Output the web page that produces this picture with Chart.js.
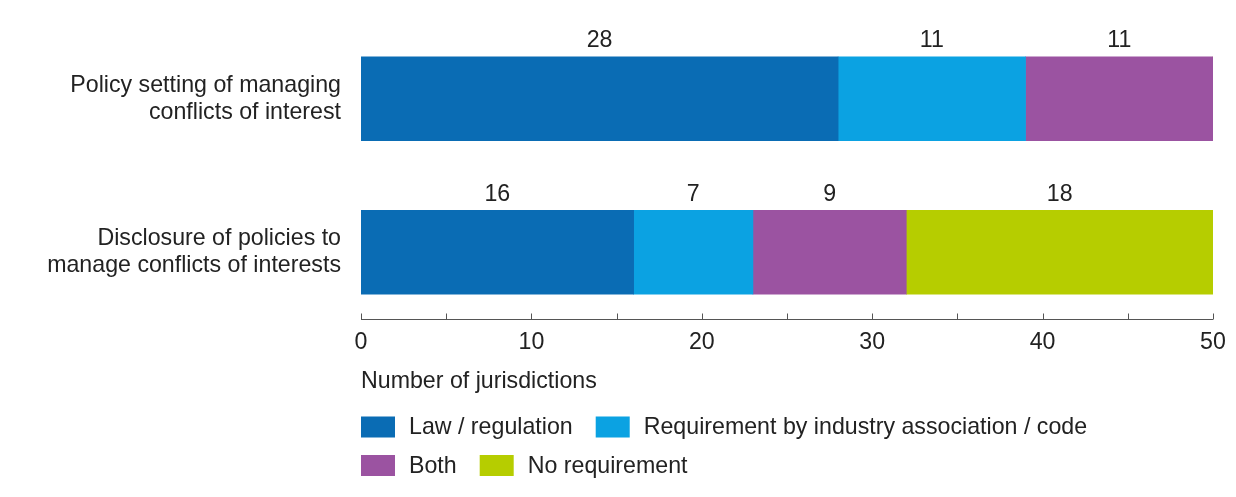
<!DOCTYPE html>
<html>
<head>
<meta charset="utf-8">
<script src="https://cdn.jsdelivr.net/npm/chart.js@4.4.1/dist/chart.umd.min.js"></script>
<style>
    body { margin: 0; background: #fff; }
    #wrap { width: 1236px; height: 497px; }
</style>
</head>
<body>
<div id="wrap"><canvas id="barChart"></canvas></div>
<script>
// categories (two-line labels) and series values
const categories = [
    ['Policy setting of managing', 'conflicts of interest'],
    ['Disclosure of policies to', 'manage conflicts of interests']
];
const seriesNames = ['Law / regulation', 'Requirement by industry association / code', 'Both', 'No requirement'];
const lawRegulation = [28, 16];
const industryCode = [11, 7];
const both = [11, 9];
const noRequirement = [0, 18];
const xTicks = [0, 10, 20, 30, 40, 50];

const colors = ['#0a6cb4', '#0ba2e2', '#9b53a1', '#b6cd00'];
const textColor = '#222';
const fontFamily = '"Liberation Sans", Arial, sans-serif';
const fontSize = 23.2;

document.addEventListener("DOMContentLoaded", function() {
    const ctx = document.getElementById('barChart').getContext('2d');

    // value labels above each segment
    const valueLabels = {
        id: 'valueLabels',
        afterDatasetsDraw(chart) {
            const c = chart.ctx;
            c.save();
            c.font = fontSize + 'px ' + fontFamily;
            c.fillStyle = textColor;
            c.textAlign = 'center';
            c.textBaseline = 'middle';
            chart.data.datasets.forEach((ds, i) => {
                chart.getDatasetMeta(i).data.forEach((bar, j) => {
                    const v = ds.data[j];
                    if (!v) return;
                    const top = bar.y - bar.height / 2;
                    c.fillText(String(v), (bar.x + bar.base) / 2, top - 16);
                });
            });
            c.restore();
        }
    };

    // x axis line with ticks every 5, drawn a bit above the chart area bottom
    const axisLine = {
        id: 'axisLine',
        afterDraw(chart) {
            const c = chart.ctx;
            const x = chart.scales.x;
            const y = 319.5;
            c.save();
            c.strokeStyle = '#555';
            c.lineWidth = 1;
            c.beginPath();
            c.moveTo(x.getPixelForValue(0), y);
            c.lineTo(x.getPixelForValue(50), y);
            for (let v = 0; v <= 50; v += 5) {
                const px = Math.round(x.getPixelForValue(v)) + 0.5;
                c.moveTo(px, y);
                c.lineTo(px, y - 6);
            }
            c.stroke();
            c.restore();
        }
    };

    // legend: left aligned under the axis title, two rows
    const legendRows = {
        id: 'legendRows',
        afterDraw(chart) {
            const c = chart.ctx;
            const left = chart.chartArea.left;
            const rows = [[0, 1], [2, 3]];
            const rowY = [427, 465.5];
            c.save();
            c.font = fontSize + 'px ' + fontFamily;
            c.textBaseline = 'middle';
            c.textAlign = 'left';
            rows.forEach((row, r) => {
                let x = left;
                row.forEach(i => {
                    const ds = chart.data.datasets[i];
                    c.fillStyle = ds.backgroundColor;
                    c.fillRect(x, rowY[r] - 10.5, 34, 21);
                    x += 34 + 14;
                    c.fillStyle = textColor;
                    c.fillText(ds.label, x, rowY[r] + 1);
                    x += c.measureText(ds.label).width + 23;
                });
            });
            c.restore();
        }
    };

    const barChart = new Chart(ctx, {
        type: 'bar',
        data: {
            labels: categories,
            datasets: [
                { label: seriesNames[0], data: lawRegulation, backgroundColor: colors[0] },
                { label: seriesNames[1], data: industryCode, backgroundColor: colors[1] },
                { label: seriesNames[2], data: both, backgroundColor: colors[2] },
                { label: seriesNames[3], data: noRequirement, backgroundColor: colors[3] }
            ]
        },
        options: {
            indexAxis: 'y',
            responsive: true,
            maintainAspectRatio: false,
            animation: false,
            barThickness: 84,
            layout: {
                padding: { top: 22, right: 23, bottom: 101, left: 0 }
            },
            plugins: {
                legend: { display: false },
                tooltip: { enabled: false }
            },
            scales: {
                x: {
                    stacked: true,
                    min: 0,
                    max: 50,
                    afterFit(scale) {
                        scale.height = 67;
                        scale.paddingLeft = 0;
                        scale.paddingRight = 0;
                    },
                    afterBuildTicks(scale) {
                        scale.ticks = xTicks.map(v => ({ value: v }));
                    },
                    grid: { display: false, drawTicks: false },
                    border: { display: false },
                    ticks: {
                        padding: 0,
                        color: textColor,
                        font: { size: fontSize, family: fontFamily }
                    },
                    title: {
                        display: true,
                        text: 'Number of jurisdictions',
                        align: 'start',
                        color: textColor,
                        padding: 0,
                        font: { size: fontSize, family: fontFamily }
                    }
                },
                y: {
                    stacked: true,
                    afterFit(scale) {
                        scale.width = 361;
                        scale.paddingTop = 0;
                        scale.paddingBottom = 0;
                    },
                    grid: { display: false, drawTicks: false },
                    border: { display: false },
                    ticks: {
                        padding: 20,
                        color: textColor,
                        font: { size: fontSize, family: fontFamily, lineHeight: 1.17 }
                    }
                }
            }
        },
        plugins: [valueLabels, axisLine, legendRows]
    });
});
</script>
</body>
</html>
